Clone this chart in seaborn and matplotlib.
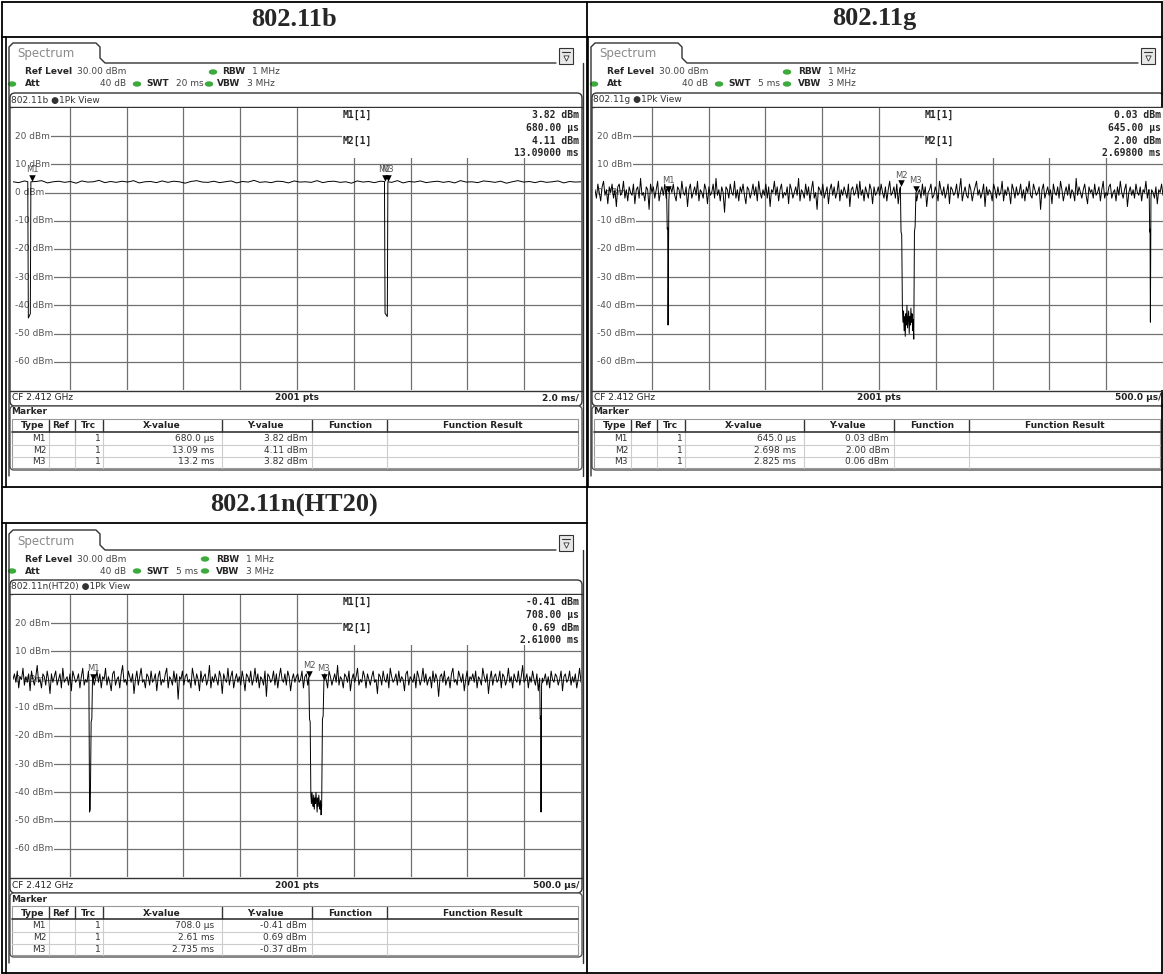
import numpy as np
import pandas as pd
import matplotlib
matplotlib.use('Agg')
import matplotlib.pyplot as plt
from matplotlib.patches import FancyBboxPatch, Rectangle, Ellipse
import seaborn as sns

sns.set_theme(style='white')
plt.rcParams['font.family'] = ['DejaVu Sans']

# --- data ---
titles = ['802.11b', '802.11g', '802.11n(HT20)']
sweep_ms = [20, 5, 5]
swt_text = ['20 ms', '5 ms', '5 ms']
div_text = ['2.0 ms/', '500.0 \u00b5s/', '500.0 \u00b5s/']
levels_db = [20, 10, 0, -10, -20, -30, -40, -50, -60]

# 802.11b trace (dBm), baseline samples
b_noise = [3.8, 3.5, 4.1, 3.6, 3.9, 4.2, 3.4, 3.8, 4.0, 3.6, 3.9, 3.3, 4.1, 3.7, 3.8, 4.3, 3.5, 3.9, 3.6, 4.0,
           3.7, 4.2, 3.4, 3.8, 3.9, 3.5, 4.1, 3.6, 4.0, 3.8, 3.3, 3.9, 4.2, 3.7, 3.6, 4.0, 3.5, 3.8, 4.1, 3.4,
           3.9, 3.7, 4.3, 3.6, 3.8, 3.5, 4.0, 3.9, 3.4, 4.1, 3.7, 3.8, 3.6, 4.2, 3.5, 3.9, 4.0, 3.6, 3.8, 3.3,
           4.1, 3.7, 3.9, 3.5, 4.0, 3.8, 3.6, 4.2, 3.4, 3.9, 3.7, 4.1, 3.5, 3.8, 4.0, 3.6, 3.9, 3.4, 4.2, 3.7,
           3.8, 3.5, 4.1, 3.9, 3.6, 4.0, 3.3, 3.8, 4.2, 3.7, 3.9, 3.5, 4.0, 3.6, 3.8, 4.1, 3.4, 3.9, 3.7, 3.8]
b_dip_t = [[0.52, 0.54, 0.61, 0.63], [13.08, 13.10, 13.18, 13.20]]
b_dip_v = [[3.8, -44.5, -43.0, 3.8], [3.9, -42.8, -44.0, 3.82]]

# 802.11g trace (dBm)
g_noise = [1, -2, 3, 0, -3, 2, 4, -1, 1, -4, 2, 0, 3, -2, 1, -5, 2, 3, -1, 0,
           4, -2, 1, -3, 2, 0, -1, 3, -4, 1, 2, -2, 5, -1, 0, -3, 2, 1, -6, 3,
           0, 2, -2, 1, 4, -3, 0, 2, -1, 3, -2, 1, -4, 2, 0, 3, -1, -3, 2, 1,
           -2, 4, 0, -1, 2, -5, 1, 3, -2, 0, 2, -1, 4, -3, 1, 0, -2, 3, 1, -4,
           2, -1, 0, 3, -2, 5, -1, 1, -3, 2, 0, -7, 2, 1, -2, 3, 0, -1, 4, -2,
           1, -3, 2, 0, 3, -1, -4, 2, 1, -2, 0, 3, -1, 2, -3, 4, 0, -2, 1, -1,
           3, -2, 2, -5, 1, 0, 4, -1, 2, -3, 1, 3, -2, 0, -1, 2, -4, 3, 1, -2,
           0, 2, -1, 5, -3, 1, 0, -2, 3, -1, 2, -3, 1, 4, -2, 0, -6, 2, 1, -1,
           3, -2, 0, 2, -4, 1, 3, -1, 2, -2, 0, 4, -3, 1, -1, 2, 0, -2, 3, -5,
           1, 2, -1, 0, 3, -2, 4, -1, 1, -3, 2, 0, -2, 3, 1, -4, 2, -1, 0, 2,
           -1, 3, 0, -2, 2, -3, 1, 4, -1, 0, 2, -2, 3, -4, 1, 0, -1, 2, -3, 3,
           1, -2, 0, 4, -1, 2, -3, 0, 1, -2, 3, -1, 2, -5, 0, 1, 3, -2, -1, 2,
           0, -3, 4, 1, -1, 2, -2, 0, 3, -4, 2, 1, -1, 0, 3, -2, 1, 5, -3, 0,
           2, -1, -2, 3, 1, -3, 0, 2, 4, -1, 1, -2, 0, 3, -5, 2, -1, 1, 0, -3,
           3, 1, -2, 2, -1, 0, 4, -3, 1, -1, 2, 0, -4, 3, 1, -2, 2, -1, 0, 3,
           -2, 1, -3, 2, 0, 4, -1, -2, 3, 1, -1, 0, 2, -6, 1, 3, -2, 0, 2, -1,
           1, -4, 3, 0, -1, 2, -2, 4, 1, -3, 0, 2, -1, 3, -2, 1, 0, -3, 5, -1,
           2, 0, -2, 1, 3, -1, -4, 2, 0, 1, -2, 3, -1, 0, 2, -3, 1, 4, -2, 0,
           -1, 2, 3, -2, 0, 1, -3, 2, -1, 4, 0, -2, 1, 3, -5, 0, 2, -1, 1, -2,
           3, 0, -1, 2, -3, 1, 0, 4, -2, 1, -1, 3, 0, -2, 2, -4, 1, 0, 3, -1]
g_dip_t = [[0.630, 0.636, 0.640, 0.643, 0.650, 0.656],
           [2.688, 2.694, 2.700, 2.706, 2.711, 2.716, 2.721, 2.726, 2.731, 2.736, 2.741, 2.746, 2.751,
            2.756, 2.761, 2.766, 2.771, 2.776, 2.781, 2.786, 2.791, 2.796, 2.801, 2.806, 2.812, 2.818, 2.825],
           [4.878, 4.883, 4.886, 4.889, 4.894, 4.900]]
g_dip_v = [[1.0, -13.0, -12.5, -47.0, -3.0, 1.5],
           [2.0, -14.0, -15.0, -41, -46, -42, -49, -44, -51, -43, -47, -40, -48, -45, -42, -50,
            -44, -47, -41, -46, -43, -49, -45, -52, -14.0, -12.0, 0.06],
           [1.0, -14.0, -13.0, -46.0, -2.0, 1.0]]

# 802.11n(HT20) trace (dBm)
n_noise = [0, 2, -1, 3, -3, 1, 0, 4, -2, 1, -1, 2, -4, 3, 0, -2, 1, 5, -1, 0,
           -3, 2, 1, -2, 3, 0, -5, 2, -1, 1, 3, -2, 0, 2, -3, 4, -1, 0, 1, -2,
           2, -4, 3, 1, -1, 0, 2, -3, 1, 4, -2, 0, -1, 3, -6, 2, 1, -2, 0, 3,
           -1, 2, -3, 1, 0, 4, -2, 1, -1, -4, 2, 3, -2, 0, 1, -3, 2, 5, -1, 0,
           -2, 3, 1, -1, 2, -5, 0, 3, -2, 1, 4, -1, 0, -3, 2, 1, -2, 3, -1, 0,
           2, -4, 1, 3, -2, 0, -1, 2, 4, -3, 1, 0, -2, 3, -1, 2, -7, 1, 0, 3,
           -2, 1, 2, -1, 0, -3, 4, 1, -2, 2, 0, -4, 3, -1, 1, 2, -2, 0, 5, -3,
           1, -1, 2, 0, -2, 3, 1, -5, 2, 0, -1, 4, -2, 1, 3, -3, 0, 2, -1, 1,
           -2, 3, 0, -4, 2, 1, -1, 3, -2, 0, 4, -1, 2, -3, 1, 0, -2, 3, -6, 2,
           1, -1, 0, 3, -2, 2, -3, 1, 4, 0, -1, 2, -2, 3, 1, -4, 0, 2, -1, 1,
           2, -1, 0, 3, -3, 1, 2, -2, 0, 4, -1, 1, -4, 2, 0, 3, -2, 1, -1, 2,
           0, -3, 3, 1, -2, 0, 2, -1, 5, -2, 1, 0, -3, 2, 1, -1, 3, -4, 0, 2,
           -1, 1, 4, -2, 0, -1, 3, 1, -3, 2, 0, -2, 1, 3, -1, 0, -5, 2, 1, -2,
           3, 0, -1, 2, -3, 4, 1, -1, 0, 2, -2, 3, -1, 1, 0, -4, 2, 3, -2, 1,
           0, -1, 2, -3, 3, 1, -2, 0, 4, -1, 2, -2, 0, 1, -3, 3, -1, 2, 0, -6,
           1, 2, -1, 3, -2, 0, 1, -3, 2, 4, -1, 0, -2, 3, 1, -1, 2, -4, 0, 3,
           -2, 1, 0, 2, -1, 3, -3, 1, 0, -2, 4, 1, -1, 2, -5, 0, 3, -2, 1, 2,
           -1, 0, 3, -3, 2, 1, -2, 0, 4, -1, 1, -3, 2, 0, -1, 3, -2, 1, 5, -1,
           0, 2, -3, 1, -1, 3, 0, -2, 2, -4, 1, 3, -1, 0, 2, -2, 1, -3, 3, 0,
           -1, 2, 1, -2, 0, 3, -4, 1, 2, -1, 0, 3, -2, 1, -1, 2, -3, 0, 4, -1]
n_dip_t = [[0.668, 0.674, 0.680, 0.688, 0.694, 0.700],
           [2.604, 2.610, 2.616, 2.622, 2.627, 2.632, 2.637, 2.642, 2.647, 2.652, 2.657, 2.662, 2.667,
            2.672, 2.677, 2.682, 2.687, 2.692, 2.697, 2.702, 2.707, 2.712, 2.717, 2.724, 2.730, 2.737],
           [4.636, 4.641, 4.645, 4.648, 4.653, 4.660]]
n_dip_v = [[0.5, -47.0, -46.0, -15.0, -14.0, 0.5],
           [1.0, -14.0, -15.0, -41, -44, -40, -43, -45, -41, -46, -42, -44, -40, -43, -47,
            -42, -45, -41, -44, -46, -43, -48, -45, -14.0, -13.0, -0.37],
           [0.5, -14.0, -13.0, -47.0, -2.0, 0.5]]

# markers
mk_names = ['M1', 'M2', 'M3']
b_mk_x = [0.68, 13.09, 13.2]
b_mk_y = [3.82, 4.11, 3.82]
g_mk_x = [0.645, 2.698, 2.825]
g_mk_y = [0.03, 2.00, 0.06]
n_mk_x = [0.708, 2.61, 2.735]
n_mk_y = [-0.41, 0.69, -0.37]
b_xs = ['680.0 \u00b5s', '13.09 ms', '13.2 ms']
g_xs = ['645.0 \u00b5s', '2.698 ms', '2.825 ms']
n_xs = ['708.0 \u00b5s', '2.61 ms', '2.735 ms']
b_box = ['3.82 dBm', '680.00 \u00b5s', '4.11 dBm', '13.09000 ms']
g_box = ['0.03 dBm', '645.00 \u00b5s', '2.00 dBm', '2.69800 ms']
n_box = ['-0.41 dBm', '708.00 \u00b5s', '0.69 dBm', '2.61000 ms']

W, H = 1163, 974
fig = plt.figure(figsize=(W / 100, H / 100), dpi=100)
bg = fig.add_axes([0, 0, 1, 1])
bg.set_xlim(0, W)
bg.set_ylim(H, 0)
bg.axis('off')

# outer html table
for y0 in [1.5, 37, 487, 972.5]:
    bg.plot([1.5, 1161.5], [y0, y0], color='black', lw=1.3)
bg.plot([1.5, 587], [523, 523], color='black', lw=1.3)
for x0 in [1.5, 587, 1161.5]:
    bg.plot([x0, x0], [1.5, 972.5], color='black', lw=1.3)
title_kw = dict(ha='center', va='center', family='Liberation Serif', weight='bold', fontsize=19)
bg.text(294, 19, titles[0], **title_kw)
bg.text(874, 19, titles[1], **title_kw)
bg.text(294, 505, titles[2], **title_kw)

GREEN = '#3caa3c'
GRID = '#707070'
FS = 6.5


def build_trace(sweep, noise, dip_t, dip_v):
    t = np.linspace(0, sweep, len(noise))
    v = np.array(noise, float)
    keep = np.ones(len(t), bool)
    for seg in dip_t:
        keep &= ~((t >= seg[0]) & (t <= seg[-1]))
    t_all = np.concatenate([t[keep]] + [np.array(s, float) for s in dip_t])
    v_all = np.concatenate([v[keep]] + [np.array(s, float) for s in dip_v])
    order = np.argsort(t_all, kind='stable')
    return pd.DataFrame({'time': t_all[order], 'level': v_all[order]})


def draw_panel(dx, dy, k, noise, dip_t, dip_v, mk_x, mk_y, mk_xs, box, rbw_x, vbw_x):
    sweep = sweep_ms[k]
    X = lambda x: x + dx
    Y = lambda y: y + dy

    # screenshot edge, tab and frames
    bg.plot([X(5.5), X(5.5)], [Y(37), Y(487)], color='black', lw=1.2)
    tab = [(9, 476), (9, 47), (13, 43), (96, 43), (100, 47), (100, 58), (105, 63), (556, 63)]
    bg.plot([X(p[0]) for p in tab], [Y(p[1]) for p in tab], color='#333333', lw=1)
    bg.plot([X(583), X(583)], [Y(63), Y(476)], color='#333333', lw=1)
    bg.add_patch(Rectangle((X(559), Y(48)), 14, 16, fc='#e8e8e8', ec='#333333', lw=0.8))
    bg.plot([X(562), X(570)], [Y(52), Y(52)], color='#333333', lw=0.8)
    bg.scatter([X(566)], [Y(58)], marker='v', s=14, facecolor='white', edgecolor='#333333', lw=0.6)
    bg.text(X(17), Y(54), 'Spectrum', fontsize=8.5, color='#8a8a8a', va='center')

    # header settings
    bg.text(X(25), Y(72), 'Ref Level', fontsize=FS, weight='bold', va='center')
    bg.text(X(77), Y(72), '30.00 dBm', fontsize=FS, color='#444444', va='center')
    bg.add_patch(Ellipse((X(rbw_x[0]), Y(72)), 7, 4, color=GREEN))
    bg.text(X(rbw_x[1]), Y(72), 'RBW', fontsize=FS, weight='bold', va='center')
    bg.text(X(rbw_x[2]), Y(72), '1 MHz', fontsize=FS, color='#444444', va='center')
    bg.add_patch(Ellipse((X(12), Y(84)), 7, 4, color=GREEN))
    bg.text(X(25), Y(84), 'Att', fontsize=FS, weight='bold', va='center')
    bg.text(X(100), Y(84), '40 dB', fontsize=FS, color='#444444', va='center')
    bg.add_patch(Ellipse((X(137), Y(84)), 7, 4, color=GREEN))
    bg.text(X(146), Y(84), 'SWT', fontsize=FS, weight='bold', va='center')
    bg.text(X(176), Y(84), swt_text[k], fontsize=FS, color='#444444', va='center')
    bg.add_patch(Ellipse((X(vbw_x[0]), Y(84)), 7, 4, color=GREEN))
    bg.text(X(vbw_x[1]), Y(84), 'VBW', fontsize=FS, weight='bold', va='center')
    bg.text(X(vbw_x[2]), Y(84), '3 MHz', fontsize=FS, color='#444444', va='center')

    # plot frame
    bg.add_patch(FancyBboxPatch((X(10), Y(93)), 572, 313, boxstyle='round,pad=0,rounding_size=5',
                                fc='white', ec='#333333', lw=1))
    bg.text(X(11), Y(100), titles[k] + ' \u25cf1Pk View', fontsize=FS, color='#333333', va='center')
    bg.plot([X(10), X(582)], [Y(107), Y(107)], color='#333333', lw=1)
    bg.plot([X(10), X(582)], [Y(391), Y(391)], color='#333333', lw=1)
    bg.text(X(12), Y(398), 'CF 2.412 GHz', fontsize=FS, color='#222222', va='center')
    bg.text(X(297), Y(398), '2001 pts', fontsize=FS, color='#222222', va='center', ha='center', weight='bold')
    bg.text(X(579), Y(398), div_text[k], fontsize=FS, color='#222222', va='center', ha='right', weight='bold')

    # marker table
    bg.add_patch(FancyBboxPatch((X(10), Y(406)), 572, 64, boxstyle='round,pad=0,rounding_size=4',
                                fc='white', ec='#555555', lw=1))
    bg.text(X(11), Y(412), 'Marker', fontsize=FS, weight='bold', va='center')
    bg.add_patch(Rectangle((X(12), Y(419)), 566, 49, fc='white', ec='#999999', lw=0.8))
    seps = [49, 75, 103, 222, 312, 387]
    for s in seps:
        bg.plot([X(s), X(s)], [Y(420), Y(432)], color='#333333', lw=1)
        bg.plot([X(s), X(s)], [Y(432), Y(468)], color='#cccccc', lw=0.8)
    bg.plot([X(12), X(578)], [Y(432), Y(432)], color='#333333', lw=1.2)
    for ry in (444.5, 456.5):
        bg.plot([X(12), X(578)], [Y(ry), Y(ry)], color='#cccccc', lw=0.8)
    heads = ['Type', 'Ref', 'Trc', 'X-value', 'Y-value', 'Function', 'Function Result']
    hx = [33, 61, 88, 162, 265, 350, 483]
    for h, x0 in zip(heads, hx):
        bg.text(X(x0), Y(426), h, fontsize=FS, weight='bold', ha='center', va='center', color='#222222')
    for i, ry in enumerate((438.5, 450.5, 462)):
        bg.text(X(46), Y(ry), mk_names[i], fontsize=FS, ha='right', va='center', color='#333333')
        bg.text(X(101), Y(ry), '1', fontsize=FS, ha='right', va='center', color='#333333')
        bg.text(X(214), Y(ry), mk_xs[i], fontsize=FS, ha='right', va='center', color='#333333')
        bg.text(X(307), Y(ry), f'{mk_y[i]:.2f} dBm', fontsize=FS, ha='right', va='center', color='#333333')

    # trace axes
    left, right, top, bottom = X(13), X(581), Y(107.9), Y(389.9)
    ax = fig.add_axes([left / W, 1 - bottom / H, (right - left) / W, (bottom - top) / H])
    ax.set_facecolor('white')
    for sp in ax.spines.values():
        sp.set_visible(False)
    ax.set_xlim(0, sweep)
    ax.set_ylim(-70, 30)
    px_t = sweep / 568.0
    db_px = 100 / 282.0
    for i in range(1, 10):
        ax.axvline(i * sweep / 10, color=GRID, lw=0.9, zorder=1)
    for lv in levels_db:
        ax.hlines(lv, 20 * px_t, sweep, color=GRID, lw=0.9, zorder=1)
    # marker info box
    t0 = (342 - 13) * px_t
    lvl0 = 30 - (158 - 107.9) * db_px
    ax.add_patch(Rectangle((t0, lvl0), sweep - t0, 30 - lvl0, fc='white', ec='none', zorder=1.5))
    for lv in levels_db:
        ax.text(2 * px_t, lv, f'{lv} dBm', fontsize=FS, color='#555555', va='center', ha='left', zorder=2,
                bbox=dict(fc='white', ec='none', pad=0.6))
    mono = dict(family='DejaVu Sans Mono', weight='bold', fontsize=7, va='center', zorder=3)
    ax.text(t0 + 1 * px_t, 30 - (115 - 107.9) * db_px, 'M1[1]', ha='left', **mono)
    ax.text(t0 + 1 * px_t, 30 - (141 - 107.9) * db_px, 'M2[1]', ha='left', **mono)
    for j, yy in enumerate((115, 128, 141, 153)):
        ax.text(sweep - 2 * px_t, 30 - (yy - 107.9) * db_px, box[j], ha='right', **mono)

    df = build_trace(sweep, noise, dip_t, dip_v)
    sns.lineplot(data=df, x='time', y='level', ax=ax, color='black', lw=0.7,
                 estimator=None, sort=False, zorder=3)
    ax.scatter(mk_x, np.array(mk_y) + 1.2, marker='v', s=22, color='black', zorder=4, lw=0)
    for name, mx, my in zip(mk_names, mk_x, mk_y):
        ax.text(mx, my + 4.2, name, fontsize=6, color='#555555', ha='center', va='center', zorder=4)
    ax.set_xlabel('')
    ax.set_ylabel('')
    ax.set_xticks([])
    ax.set_yticks([])


draw_panel(0, 0, 0, b_noise, b_dip_t, b_dip_v, b_mk_x, b_mk_y, b_xs, b_box, (213, 222, 252), (209, 217, 247))
draw_panel(582, 0, 1, g_noise, g_dip_t, g_dip_v, g_mk_x, g_mk_y, g_xs, g_box, (205, 216, 246), (205, 216, 246))
draw_panel(0, 487, 2, n_noise, n_dip_t, n_dip_v, n_mk_x, n_mk_y, n_xs, n_box, (205, 216, 246), (205, 216, 246))

fig.savefig('out.png', dpi=100)
